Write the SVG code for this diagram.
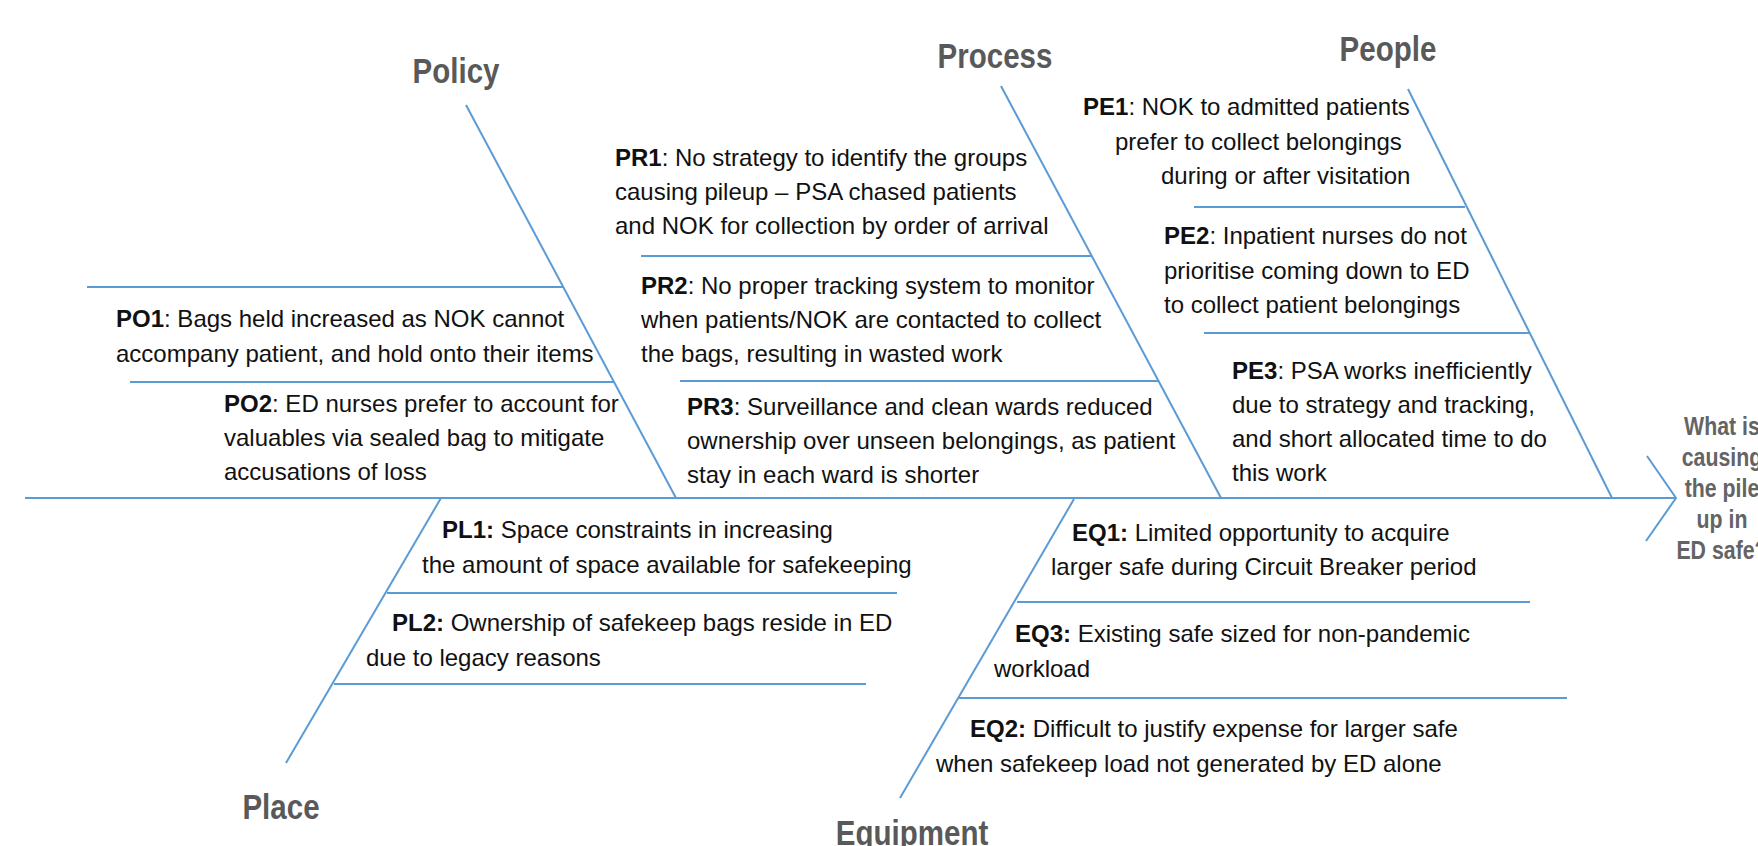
<svg xmlns="http://www.w3.org/2000/svg" width="1758" height="846" viewBox="0 0 1758 846">
<style>
.ln{stroke:#5B9BD5;stroke-width:2;fill:none;stroke-linecap:butt}
.t{font-family:"Liberation Sans",Arial,sans-serif;font-size:24px;fill:#111}
.b{font-weight:bold}
.cat{font-family:"Liberation Sans",Arial,sans-serif;font-size:36px;font-weight:bold;fill:#595959;text-anchor:middle}
.q{font-family:"Liberation Sans",Arial,sans-serif;font-size:26px;font-weight:bold;fill:#646464;text-anchor:middle}
</style>
<rect width="1758" height="846" fill="#ffffff"/>
<g id="connectors">
<line class="ln" x1="25" y1="498" x2="1676" y2="498"/>
<polyline class="ln" points="1647,456 1676,498 1646,541"/>
<line class="ln" x1="466" y1="105" x2="676" y2="498"/>
<line class="ln" x1="1001" y1="86" x2="1221" y2="498"/>
<line class="ln" x1="1408" y1="89" x2="1612" y2="498"/>
<line class="ln" x1="441" y1="498" x2="286" y2="763"/>
<line class="ln" x1="1074" y1="499" x2="900" y2="798"/>
<line class="ln" x1="87" y1="287" x2="563" y2="287"/>
<line class="ln" x1="130" y1="382" x2="614" y2="382"/>
<line class="ln" x1="641" y1="256" x2="1091" y2="256"/>
<line class="ln" x1="680" y1="381" x2="1159" y2="381"/>
<line class="ln" x1="1194" y1="207" x2="1465" y2="207"/>
<line class="ln" x1="1204" y1="333" x2="1529" y2="333"/>
<line class="ln" x1="387" y1="593" x2="897" y2="593"/>
<line class="ln" x1="334" y1="684" x2="866" y2="684"/>
<line class="ln" x1="1017" y1="602" x2="1530" y2="602"/>
<line class="ln" x1="959" y1="698" x2="1567" y2="698"/>
</g>
<g id="policy">
<text class="cat" transform="translate(456 83) scale(0.82 1)">Policy</text>
<text class="t" x="116" y="327"><tspan class="b">PO1</tspan>: Bags held increased as NOK cannot</text>
<text class="t" x="116" y="362">accompany patient, and hold onto their items</text>
<text class="t" x="224" y="412"><tspan class="b">PO2</tspan>: ED nurses prefer to account for</text>
<text class="t" x="224" y="446">valuables via sealed bag to mitigate</text>
<text class="t" x="224" y="480">accusations of loss</text>
</g>
<g id="process">
<text class="cat" transform="translate(995 68) scale(0.82 1)">Process</text>
<text class="t" x="615" y="166"><tspan class="b">PR1</tspan>: No strategy to identify the groups</text>
<text class="t" x="615" y="200">causing pileup – PSA chased patients</text>
<text class="t" x="615" y="234">and NOK for collection by order of arrival</text>
<text class="t" x="641" y="294"><tspan class="b">PR2</tspan>: No proper tracking system to monitor</text>
<text class="t" x="641" y="328">when patients/NOK are contacted to collect</text>
<text class="t" x="641" y="362">the bags, resulting in wasted work</text>
<text class="t" x="687" y="415"><tspan class="b">PR3</tspan>: Surveillance and clean wards reduced</text>
<text class="t" x="687" y="449">ownership over unseen belongings, as patient</text>
<text class="t" x="687" y="483">stay in each ward is shorter</text>
</g>
<g id="people">
<text class="cat" transform="translate(1388 61) scale(0.82 1)">People</text>
<text class="t" x="1083" y="115"><tspan class="b">PE1</tspan>: NOK to admitted patients</text>
<text class="t" x="1115" y="150">prefer to collect belongings</text>
<text class="t" x="1161" y="184">during or after visitation</text>
<text class="t" x="1164" y="244"><tspan class="b">PE2</tspan>: Inpatient nurses do not</text>
<text class="t" x="1164" y="279">prioritise coming down to ED</text>
<text class="t" x="1164" y="313">to collect patient belongings</text>
<text class="t" x="1232" y="379"><tspan class="b">PE3</tspan>: PSA works inefficiently</text>
<text class="t" x="1232" y="413">due to strategy and tracking,</text>
<text class="t" x="1232" y="447">and short allocated time to do</text>
<text class="t" x="1232" y="481">this work</text>
</g>
<g id="place">
<text class="cat" transform="translate(281 819) scale(0.82 1)">Place</text>
<text class="t" x="442" y="538"><tspan class="b">PL1:</tspan> Space constraints in increasing</text>
<text class="t" x="422" y="573">the amount of space available for safekeeping</text>
<text class="t" x="392" y="631"><tspan class="b">PL2:</tspan> Ownership of safekeep bags reside in ED</text>
<text class="t" x="366" y="666">due to legacy reasons</text>
</g>
<g id="equipment">
<text class="cat" transform="translate(912 845) scale(0.82 1)">Equipment</text>
<text class="t" x="1072" y="541"><tspan class="b">EQ1:</tspan> Limited opportunity to acquire</text>
<text class="t" x="1051" y="575">larger safe during Circuit Breaker period</text>
<text class="t" x="1015" y="642"><tspan class="b">EQ3:</tspan> Existing safe sized for non-pandemic</text>
<text class="t" x="994" y="677">workload</text>
<text class="t" x="970" y="737"><tspan class="b">EQ2:</tspan> Difficult to justify expense for larger safe</text>
<text class="t" x="936" y="772">when safekeep load not generated by ED alone</text>
</g>
<g id="problem" transform="translate(1722 0) scale(0.82 1)">
<text class="q" x="0" y="435">What is</text>
<text class="q" x="0" y="466">causing</text>
<text class="q" x="0" y="497">the pile</text>
<text class="q" x="0" y="528">up in</text>
<text class="q" x="0" y="559">ED safe?</text>
</g>
</svg>
